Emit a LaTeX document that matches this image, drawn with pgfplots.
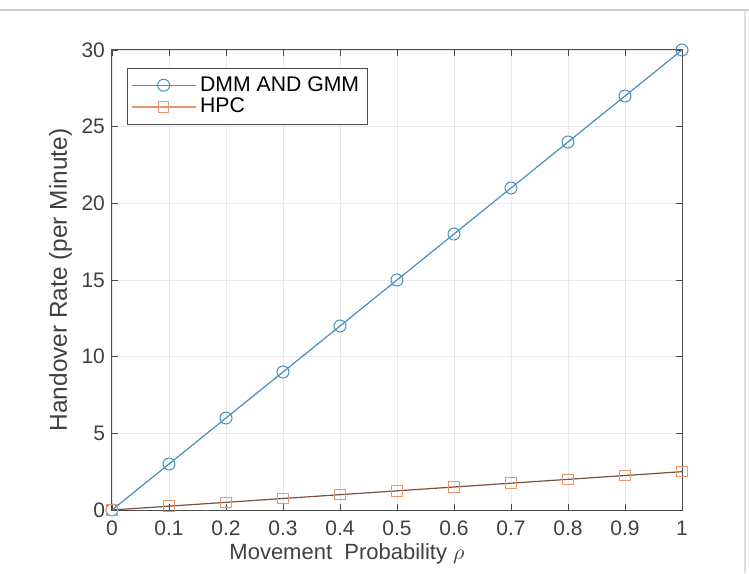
\documentclass[border=0pt]{standalone}
\usepackage{pgfplots}
\pgfplotsset{compat=1.18}
\usepackage{fontspec}
\setmainfont{Liberation Sans}
\definecolor{mblue}{RGB}{70,145,190}
\definecolor{morange}{RGB}{232,150,110}
\definecolor{mline}{RGB}{120,80,60}
\begin{document}
\begin{tikzpicture}
\begin{axis}[
    name=ax,
    at={(0,0)}, anchor=south west,
    scale only axis, width=285pt, height=230pt,
    xmin=0, xmax=1, ymin=0, ymax=30,
    xtick={0,0.1,...,1}, ytick={0,5,...,30},
    xticklabels={0,0.1,0.2,0.3,0.4,0.5,0.6,0.7,0.8,0.9,1},
    tick align=inside, tick pos=both,
    major tick length=3pt,
    grid=major, grid style={gray!18, line width=0.4pt},
    axis line style={gray!60!black, line width=0.5pt},
    tick style={gray!60!black},
    /pgf/number format/assume math mode=true,
    tick label style={font=\fontsize{10.5}{12}\selectfont, text=black!75},
    xticklabel style={yshift=-2pt},
    label style={font=\fontsize{11}{13}\selectfont, text=black!75},
    xlabel={Movement\ \ Probability $\rho$},
    ylabel={Handover Rate (per Minute)},
    xlabel style={yshift=3pt, xshift=-25pt},
    ylabel style={font=\fontsize{12.2}{14}\selectfont, yshift=-2pt},
    legend style={at={(0.026,0.961)}, anchor=north west, font=\fontsize{10.6}{12}\selectfont,
        draw=black!70, inner sep=2pt, row sep=-2pt,
        cells={anchor=west}},
    legend cell align=left,
    legend image code/.code={
        \draw[mark repeat=2,mark phase=2,#1] plot coordinates {(0cm,0cm) (0.56cm,0cm) (1.12cm,0cm)};
    },
]
\addplot[color=mblue, line width=0.6pt, mark=o, mark size=3pt, mark options={line width=0.5pt}] coordinates {
    (0,0) (0.1,3) (0.2,6) (0.3,9) (0.4,12) (0.5,15) (0.6,18) (0.7,21) (0.8,24) (0.9,27) (1,30)
};
\addlegendentry{DMM AND GMM}
\addplot[color=mline, line width=0.6pt, mark=square, mark size=2.6pt, mark options={draw=morange, line width=0.5pt},
    legend image code/.code={
        \draw[morange, line width=0.6pt] (0cm,0cm) -- (1.12cm,0cm);
        \draw[morange, line width=0.5pt] plot[mark=square, mark size=2.6pt] coordinates {(0.56cm,0cm)};
    }] coordinates {
    (0,0) (0.1,0.25) (0.2,0.5) (0.3,0.75) (0.4,1.0) (0.5,1.25) (0.6,1.5) (0.7,1.75) (0.8,2.0) (0.9,2.25) (1,2.5)
};
\addlegendentry{HPC}
\end{axis}
\useasboundingbox (-56pt,-31.5pt) rectangle (318.5pt,255pt);
\draw[gray!40, line width=0.8pt] (-56pt,250pt) -- (318.5pt,250pt);
\draw[gray!25, line width=0.6pt] (316.5pt,-31.5pt) -- (316.5pt,250pt);
\end{tikzpicture}
\end{document}
